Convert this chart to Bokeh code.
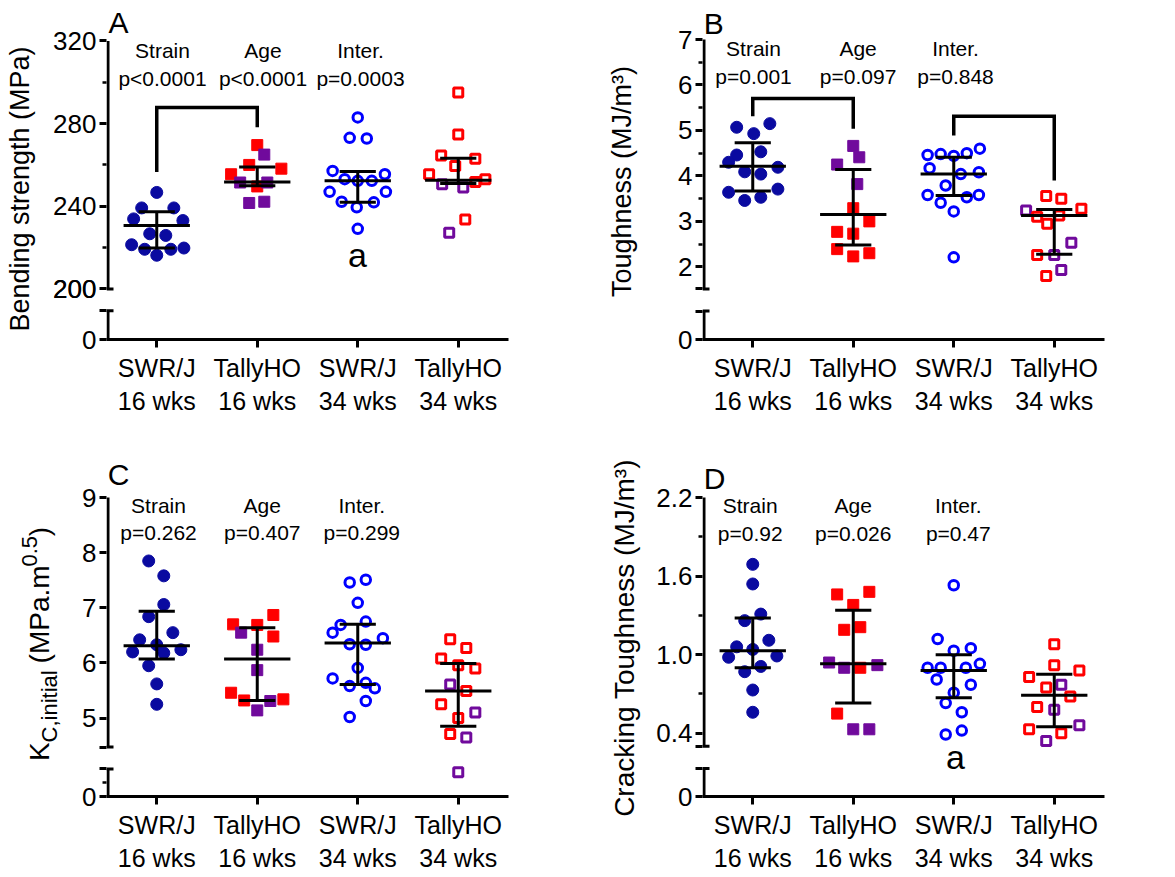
import numpy as np
from bokeh.plotting import figure
from bokeh.layouts import column, row
from bokeh.models import Range1d, FixedTicker, Label, ColumnDataSource
from bokeh.embed import file_html
from bokeh.resources import INLINE

FONT = "Liberation Sans"
NBSP = "\u00a0"
GROUPS = ["SWR/J\n16 wks", "TallyHO\n16 wks", "SWR/J\n34 wks", "TallyHO\n34 wks"]
EFFECTS = ["Strain", "Age", "Inter."]

# ---------------- Panel A: bending strength (MPa) ----------------
A_g1 = [246.7, 239.2, 239.2, 233.9, 233.1, 226.7, 225.9, 221.4, 219.2, 219.2, 219.8, 216.3]
A_g1_jit = [0.0, -0.15, 0.17, -0.23, 0.26, -0.07, 0.09, -0.25, -0.12, 0.14, 0.27, 0.0]
A_g2 = [269.6, 265.0, 260.0, 258.2, 255.5, 251.5, 249.6, 251.5, 241.6, 242.2]
A_g2_sub = ["r", "p", "r", "r", "r", "p", "r", "p", "p", "p"]
A_g2_jit = [0.0, 0.07, -0.08, 0.24, -0.26, -0.17, 0.0, 0.10, -0.08, 0.07]
A_g3 = [283.0, 273.1, 272.8, 257.1, 255.5, 253.1, 252.3, 252.3, 247.0, 247.0, 242.2, 239.5, 241.9, 229.1]
A_g3_jit = [0.0, -0.08, 0.09, -0.25, 0.27, -0.13, 0.0, 0.14, -0.28, 0.28, -0.16, -0.01, 0.16, 0.0]
A_g4 = [295.0, 274.7, 264.6, 263.0, 259.5, 255.5, 253.1, 251.8, 250.7, 249.1, 233.6, 227.2]
A_g4_sub = ["r", "r", "r", "r", "r", "r", "r", "r", "p", "p", "r", "p"]
A_g4_jit = [0.0, 0.0, -0.17, 0.17, -0.03, -0.29, 0.27, 0.17, -0.16, 0.05, 0.07, -0.09]
A_mid = [230.7, 251.8, 252.3, 252.6]
A_lo = [219.8, 249.9, 241.9, 251.0]
A_hi = [237.4, 259.0, 256.8, 263.2]
A_ticks = [0, 200, 240, 280, 320]
A_tick_labels = ["0", "200", "240", "280", "320"]
A_minor = [220, 260, 300]
A_p = ["p<0.0001", "p<0.0001", "p=0.0003"]
A_brackets = [(1, 2, 256.6, 287.8, 278.2)]
A_title = "Bending strength (MPa)"

# ---------------- Panel B: toughness (MJ/m3) ----------------
B_g1 = [5.07, 5.15, 4.93, 4.46, 4.53, 4.30, 4.09, 4.04, 4.19, 3.64, 3.71, 3.46, 3.53]
B_g1_jit = [-0.16, 0.17, 0.01, -0.16, 0.08, -0.24, -0.08, 0.08, 0.25, -0.24, 0.25, -0.08, 0.08]
B_g2 = [4.66, 4.41, 4.25, 3.82, 3.29, 3.00, 2.77, 2.73, 2.39, 2.30, 2.23]
B_g2_sub = ["p", "p", "p", "p", "r", "r", "r", "r", "r", "r", "r"]
B_g2_jit = [0.0, 0.06, -0.16, 0.04, 0.0, 0.16, -0.16, 0.0, -0.16, 0.16, 0.0]
B_g3 = [4.46, 4.48, 4.44, 4.50, 4.60, 4.17, 4.04, 4.08, 3.79, 3.58, 3.53, 3.58, 3.41, 3.22, 2.21]
B_g3_jit = [-0.26, -0.13, 0.0, 0.13, 0.26, -0.24, 0.07, 0.25, -0.08, -0.26, 0.13, 0.25, -0.13, 0.0, 0.0]
B_g4 = [3.56, 3.50, 3.28, 3.24, 3.10, 3.13, 2.95, 2.53, 2.26, 2.26, 1.93, 1.80]
B_g4_sub = ["r", "r", "r", "p", "r", "r", "r", "p", "r", "p", "p", "r"]
B_g4_jit = [-0.08, 0.07, 0.27, -0.28, -0.17, 0.05, -0.07, 0.17, -0.17, 0.0, 0.07, -0.08]
B_mid = [4.21, 3.15, 4.04, 3.13]
B_lo = [3.67, 2.48, 3.57, 2.28]
B_hi = [4.73, 4.14, 4.41, 3.26]
B_ticks = [0, 2, 3, 4, 5, 6, 7]
B_tick_labels = ["0", "2", "3", "4", "5", "6", "7"]
B_minor = [2.5, 3.5, 4.5, 5.5, 6.5]
B_p = ["p=0.001", "p=0.097", "p=0.848"]
B_brackets = [(1, 2, 5.31, 5.70, 5.04), (3, 4, 4.89, 5.31, 3.90)]
B_title = "Toughness  (MJ/m\u00b3)"

# ---------------- Panel C: Kc,initial (MPa.m^0.5) ----------------
C_g1 = [7.85, 7.58, 7.06, 6.84, 6.55, 6.42, 6.33, 6.20, 6.18, 6.24, 5.95, 5.62, 5.25]
C_g1_jit = [-0.08, 0.07, 0.07, -0.08, 0.16, -0.17, 0.0, -0.24, 0.07, 0.24, -0.08, 0.0, 0.0]
C_g2 = [6.87, 6.70, 6.69, 6.55, 6.48, 6.24, 5.87, 5.46, 5.32, 5.34, 5.31, 5.14]
C_g2_sub = ["r", "r", "r", "p", "r", "p", "p", "r", "r", "r", "p", "p"]
C_g2_jit = [0.16, -0.24, 0.0, -0.16, 0.16, 0.0, 0.0, -0.26, -0.13, 0.26, 0.13, 0.0]
C_g3 = [7.46, 7.51, 7.09, 6.69, 6.75, 6.55, 6.34, 6.33, 6.45, 5.91, 5.72, 5.58, 5.64, 5.54, 5.31, 5.02]
C_g3_jit = [-0.08, 0.08, 0.0, -0.17, 0.08, -0.25, -0.08, 0.08, 0.25, 0.0, -0.25, -0.08, 0.08, 0.17, 0.08, -0.08]
C_g4 = [6.43, 6.27, 6.08, 5.96, 5.90, 5.61, 5.49, 5.25, 5.10, 5.00, 4.71, 4.65, 0.44]
C_g4_sub = ["r", "r", "r", "r", "r", "p", "r", "r", "p", "r", "r", "p", "p"]
C_g4_jit = [-0.08, 0.08, -0.17, 0.0, 0.17, -0.08, 0.08, -0.17, 0.17, 0.0, -0.08, 0.08, 0.0]
C_mid = [6.31, 6.07, 6.36, 5.49]
C_lo = [6.07, 5.32, 5.61, 4.85]
C_hi = [6.94, 6.64, 6.70, 5.99]
C_ticks = [0, 5, 6, 7, 8, 9]
C_tick_labels = ["0", "5", "6", "7", "8", "9"]
C_minor = [0.25]
C_p = ["p=0.262", "p=0.407", "p=0.299"]
C_brackets = []
C_title_parts = ["K", "C,initial", "(MPa.m", "0.5", ")"]

# ---------------- Panel D: cracking toughness (MJ/m3) ----------------
D_g1 = [1.69, 1.54, 1.31, 1.26, 1.11, 1.06, 1.04, 0.98, 0.99, 0.87, 0.91, 0.73, 0.56]
D_g1_jit = [0.0, 0.0, 0.08, -0.08, 0.16, -0.16, 0.0, -0.24, 0.24, -0.08, 0.08, 0.0, 0.0]
D_g2 = [1.48, 1.46, 1.38, 1.19, 1.21, 0.94, 0.92, 0.90, 0.90, 0.55, 0.43, 0.43]
D_g2_sub = ["r", "r", "r", "r", "r", "p", "p", "p", "r", "r", "p", "p"]
D_g2_jit = [0.16, -0.16, 0.0, -0.09, 0.07, -0.24, 0.24, -0.09, 0.07, -0.16, 0.0, 0.16]
D_g3 = [1.53, 1.12, 1.03, 1.05, 0.93, 0.90, 0.90, 0.90, 0.81, 0.77, 0.71, 0.63, 0.56, 0.39, 0.42]
D_g3_jit = [0.0, -0.16, 0.0, 0.17, 0.26, -0.26, -0.13, 0.12, -0.17, 0.17, 0.0, -0.08, 0.08, -0.08, 0.08]
D_g4 = [1.08, 0.92, 0.83, 0.88, 0.75, 0.77, 0.68, 0.60, 0.58, 0.43, 0.46, 0.40, 0.34]
D_g4_sub = ["r", "r", "r", "r", "r", "p", "r", "r", "p", "r", "p", "r", "p"]
D_g4_jit = [0.0, 0.0, -0.25, 0.25, -0.08, 0.07, 0.16, -0.17, 0.0, -0.25, 0.25, 0.07, -0.08]
D_mid = [1.03, 0.93, 0.88, 0.69]
D_lo = [0.90, 0.63, 0.67, 0.45]
D_hi = [1.28, 1.34, 1.00, 0.85]
D_ticks = [0, 0.4, 1.0, 1.6, 2.2]
D_tick_labels = ["0", "0.4", "1.0", "1.6", "2.2"]
D_minor = [0.7, 1.3, 1.9]
D_p = ["p=0.92", "p=0.026", "p=0.47"]
D_brackets = []
D_title = "Cracking Toughness  (MJ/m\u00b3)"

# ---------------- styling / layout ----------------
NAVY = "#0a0aa0"
BLUE = "#0000ff"
RED = "#ff0000"
PURPLE = "#700a9c"
SUBCOL = {"r": RED, "p": PURPLE}

FW = 402        # frame width in px (x range 0.5..4.5)
BASE_FIX = 0.34  # Bokeh puts an "alphabetic" label ~0.34em below its anchor; compensate

LAYOUT = {
    "A": dict(w=584, h=418, bl=106, br=76, bt=8, bb=76, fl=106, ft=8, fh=334,
              y0=175.55, y1=335.68, seg_lo=200.0, seg_hi=320.0, low_top=13.9,
              letter=(108, 32), eff_x=[162, 262.5, 360], eff_y=(58, 86), a_lab=(357, 268),
              t_font=27, t_standoff=15, t_pad=4),
    "B": dict(w=589, h=418, bl=118, br=69, bt=8, bb=76, fl=702, ft=8, fh=334,
              y0=0.4024, y1=7.682, seg_lo=1.514, seg_hi=7.0, low_top=0.626,
              letter=(703.3, 33.3), eff_x=[753, 857.6, 955], eff_y=(55, 83.3), a_lab=None,
              t_font=27, t_standoff=38, t_pad=1),
    "C": dict(w=516, h=457, bl=36, br=78, bt=22, bb=75, fl=106, ft=440, fh=360,
              y0=3.578, y1=10.035, seg_lo=4.474, seg_hi=9.0, low_top=0.5,
              letter=(107.3, 485), eff_x=[158, 261.8, 361.3], eff_y=(513.3, 540), a_lab=None,
              t_font=None, t_standoff=None, t_pad=0),
    "D": dict(w=587, h=457, bl=116, br=69, bt=22, bb=75, fl=702, ft=440, fh=360,
              y0=-0.0834, y1=2.636, seg_lo=0.30, seg_hi=2.2, low_top=0.214,
              letter=(703.3, 488.3), eff_x=[749.7, 852.7, 957.8], eff_y=(513.3, 540.7), a_lab=(955, 771.7),
              t_font=28, t_standoff=13, t_pad=4),
}
C_STRIP = dict(x0=0, w=70, h=457, bt=22, bb=75, ft=440, fb=800)  # strip left of panel C for its title


def disp(vals, L):
    """broken-axis mapping: values below the upper segment go to the lower (0-based) segment"""
    return [v if v >= L["seg_lo"] else L["y0"] + v for v in vals]


def px_x(L, xp):
    return 0.5 + (xp - L["fl"]) / FW * 4.0


def px_y(L, yp):
    return L["y1"] - (yp - L["ft"]) / L["fh"] * (L["y1"] - L["y0"])


def add_label(p, L, x_page, base_page, text, fs, align):
    p.add_layout(Label(x=px_x(L, x_page), y=px_y(L, base_page - BASE_FIX * fs), text=text, text_font=FONT,
                       text_color="black", text_font_size=f"{fs}px", text_align=align,
                       text_baseline="alphabetic"))


def panel(key, groups, mid, lo, hi, ticks, tick_labels, minor, pvals, brackets, ytitle):
    L = LAYOUT[key]
    p = figure(width=L["w"], height=L["h"], x_range=Range1d(0.5, 4.5),
               y_range=Range1d(L["y0"], L["y1"]), output_backend="svg",
               toolbar_location=None, title=None,
               min_border_left=L["bl"], min_border_right=L["br"],
               min_border_top=L["bt"], min_border_bottom=L["bb"])
    p.outline_line_color = None
    p.xgrid.visible = False
    p.ygrid.visible = False
    p.background_fill_color = "white"
    p.border_fill_color = "white"
    pxu = FW / 4.0

    # points
    (g1, j1), (g2, s2, j2), (g3, j3), (g4, s4, j4) = groups
    src1 = ColumnDataSource(dict(x=[1 + j for j in j1], y=disp(g1, L)))
    p.scatter("x", "y", source=src1, marker="circle", size=12, fill_color=NAVY, line_color=NAVY, line_width=1)
    src2 = ColumnDataSource(dict(x=[2 + j for j in j2], y=disp(g2, L), c=[SUBCOL[s] for s in s2]))
    p.scatter("x", "y", source=src2, marker="square", size=11, fill_color="c", line_color="c", line_width=1)
    src3 = ColumnDataSource(dict(x=[3 + j for j in j3], y=disp(g3, L)))
    p.scatter("x", "y", source=src3, marker="circle", size=9.5, fill_color="white", fill_alpha=0,
              line_color=BLUE, line_width=3)
    src4 = ColumnDataSource(dict(x=[4 + j for j in j4], y=disp(g4, L), c=[SUBCOL[s] for s in s4]))
    p.scatter("x", "y", source=src4, marker="square", size=9, fill_color="white", fill_alpha=0,
              line_color="c", line_width=3)

    # mean / whiskers
    cats = [1, 2, 3, 4]
    m = disp(mid, L)
    l = disp(lo, L)
    h = disp(hi, L)
    p.segment(x0=[c - 0.33 for c in cats], x1=[c + 0.33 for c in cats], y0=m, y1=m, line_width=3, line_color="black")
    p.segment(x0=[c - 0.18 for c in cats], x1=[c + 0.18 for c in cats], y0=l, y1=l, line_width=3, line_color="black")
    p.segment(x0=[c - 0.18 for c in cats], x1=[c + 0.18 for c in cats], y0=h, y1=h, line_width=3, line_color="black")
    p.segment(x0=cats, x1=cats, y0=l, y1=h, line_width=3, line_color="black")

    # brackets
    for (a, b, yl, yt, yr) in brackets:
        p.line([a, a, b, b], [yl, yt, yt, yr], line_width=3.5, line_color="black", line_join="miter")

    # broken y-axis: line pieces and inner halves of the break caps (outer halves are axis ticks)
    low_top = L["y0"] + L["low_top"]
    xa = 0.5 + 1.5 / pxu
    p.segment(x0=[xa, xa], x1=[xa, xa], y0=[L["seg_lo"], L["y0"]], y1=[L["seg_hi"], low_top],
              line_width=3, line_color="black")
    p.segment(x0=[0.5, 0.5], x1=[0.5 + 7 / pxu] * 2, y0=[L["seg_lo"], low_top], y1=[L["seg_lo"], low_top],
              line_width=3, line_color="black")

    # axes
    tk = disp(ticks, L)
    all_major = tk + [L["seg_lo"], low_top]
    p.yaxis.ticker = FixedTicker(ticks=all_major, minor_ticks=disp(minor, L))
    overrides = {L["seg_lo"]: "", low_top: ""}
    overrides.update({t: s for t, s in zip(tk, tick_labels)})
    p.yaxis.major_label_overrides = overrides
    p.yaxis.axis_line_color = None
    p.yaxis.major_tick_line_width = 3
    p.yaxis.major_tick_out = 7
    p.yaxis.major_tick_in = 0
    p.yaxis.minor_tick_line_width = 2.5
    p.yaxis.minor_tick_out = 4
    p.yaxis.minor_tick_in = 0
    p.yaxis.major_label_standoff = 3
    p.yaxis.major_label_text_font = FONT
    p.yaxis.major_label_text_font_size = "26px"
    p.yaxis.major_label_text_color = "black"
    if ytitle is not None:
        # trailing no-break spaces nudge the centred title down to where the reference has it
        p.yaxis.axis_label = ytitle + NBSP * L["t_pad"]
        p.yaxis.axis_label_standoff = L["t_standoff"]
        p.yaxis.axis_label_text_font = FONT
        p.yaxis.axis_label_text_font_size = f"{L['t_font']}px"
        p.yaxis.axis_label_text_font_style = "normal"
        p.yaxis.axis_label_text_color = "black"
    else:
        p.yaxis.axis_label = None

    p.xaxis.ticker = FixedTicker(ticks=cats, minor_ticks=[])
    p.xaxis.major_label_overrides = {c: g for c, g in zip(cats, GROUPS)}
    p.xaxis.axis_label = None
    p.xaxis.axis_line_width = 3
    p.xaxis.axis_line_color = "black"
    p.xaxis.major_tick_line_width = 3
    p.xaxis.major_tick_out = 8
    p.xaxis.major_tick_in = 0
    p.xaxis.minor_tick_line_color = None
    p.xaxis.major_label_standoff = 6
    p.xaxis.major_label_text_font = FONT
    p.xaxis.major_label_text_font_size = "25px"
    p.xaxis.major_label_text_color = "black"

    # panel letter, effect annotations and the "a" marker
    lx, ly = L["letter"]
    add_label(p, L, lx, ly, key, 30, "left")
    for i, (e, pv) in enumerate(zip(EFFECTS, pvals)):
        add_label(p, L, L["eff_x"][i], L["eff_y"][0], e, 21, "center")
        add_label(p, L, L["eff_x"][i], L["eff_y"][1], pv, 21, "center")
    if L["a_lab"] is not None:
        add_label(p, L, L["a_lab"][0], L["a_lab"][1], "a", 34, "center")
    return p


pA = panel("A", [(A_g1, A_g1_jit), (A_g2, A_g2_sub, A_g2_jit), (A_g3, A_g3_jit), (A_g4, A_g4_sub, A_g4_jit)],
           A_mid, A_lo, A_hi, A_ticks, A_tick_labels, A_minor, A_p, A_brackets, A_title)
pB = panel("B", [(B_g1, B_g1_jit), (B_g2, B_g2_sub, B_g2_jit), (B_g3, B_g3_jit), (B_g4, B_g4_sub, B_g4_jit)],
           B_mid, B_lo, B_hi, B_ticks, B_tick_labels, B_minor, B_p, B_brackets, B_title)
pC = panel("C", [(C_g1, C_g1_jit), (C_g2, C_g2_sub, C_g2_jit), (C_g3, C_g3_jit), (C_g4, C_g4_sub, C_g4_jit)],
           C_mid, C_lo, C_hi, C_ticks, C_tick_labels, C_minor, C_p, C_brackets, None)
pD = panel("D", [(D_g1, D_g1_jit), (D_g2, D_g2_sub, D_g2_jit), (D_g3, D_g3_jit), (D_g4, D_g4_sub, D_g4_jit)],
           D_mid, D_lo, D_hi, D_ticks, D_tick_labels, D_minor, D_p, D_brackets, D_title)

# strip with the composite title K_{C,initial} (MPa.m^{0.5}).  Its frame shares panel C's
# top/bottom borders, so its ranges are page pixels of that frame (y downward).
S = C_STRIP
tC = figure(width=S["w"], height=S["h"], x_range=Range1d(S["x0"], S["x0"] + S["w"]),
            y_range=Range1d(S["fb"], S["ft"]), output_backend="svg", toolbar_location=None, title=None,
            x_axis_type=None, y_axis_type=None,
            min_border_left=0, min_border_right=0, min_border_top=S["bt"], min_border_bottom=S["bb"])
tC.outline_line_color = None
tC.xgrid.visible = False
tC.ygrid.visible = False
# (font size, baseline x, start y) per part; each part runs upward from its start
c_place = [(28, 48.3, 764.0), (22, 56.0, 745.3), (28, 48.3, 665.4), (22, 36.0, 567.4), (28, 48.3, 536.8)]
for txt, (fs, xb, ys) in zip(C_title_parts, c_place):
    tC.add_layout(Label(x=xb - BASE_FIX * fs, y=ys, text=txt, angle=np.pi / 2, text_font=FONT,
                        text_color="black", text_font_size=f"{fs}px", text_align="left",
                        text_baseline="alphabetic"))

layout = column(row(pA, pB), row(tC, pC, pD))
open("out.html", "w").write(file_html(layout, INLINE))
